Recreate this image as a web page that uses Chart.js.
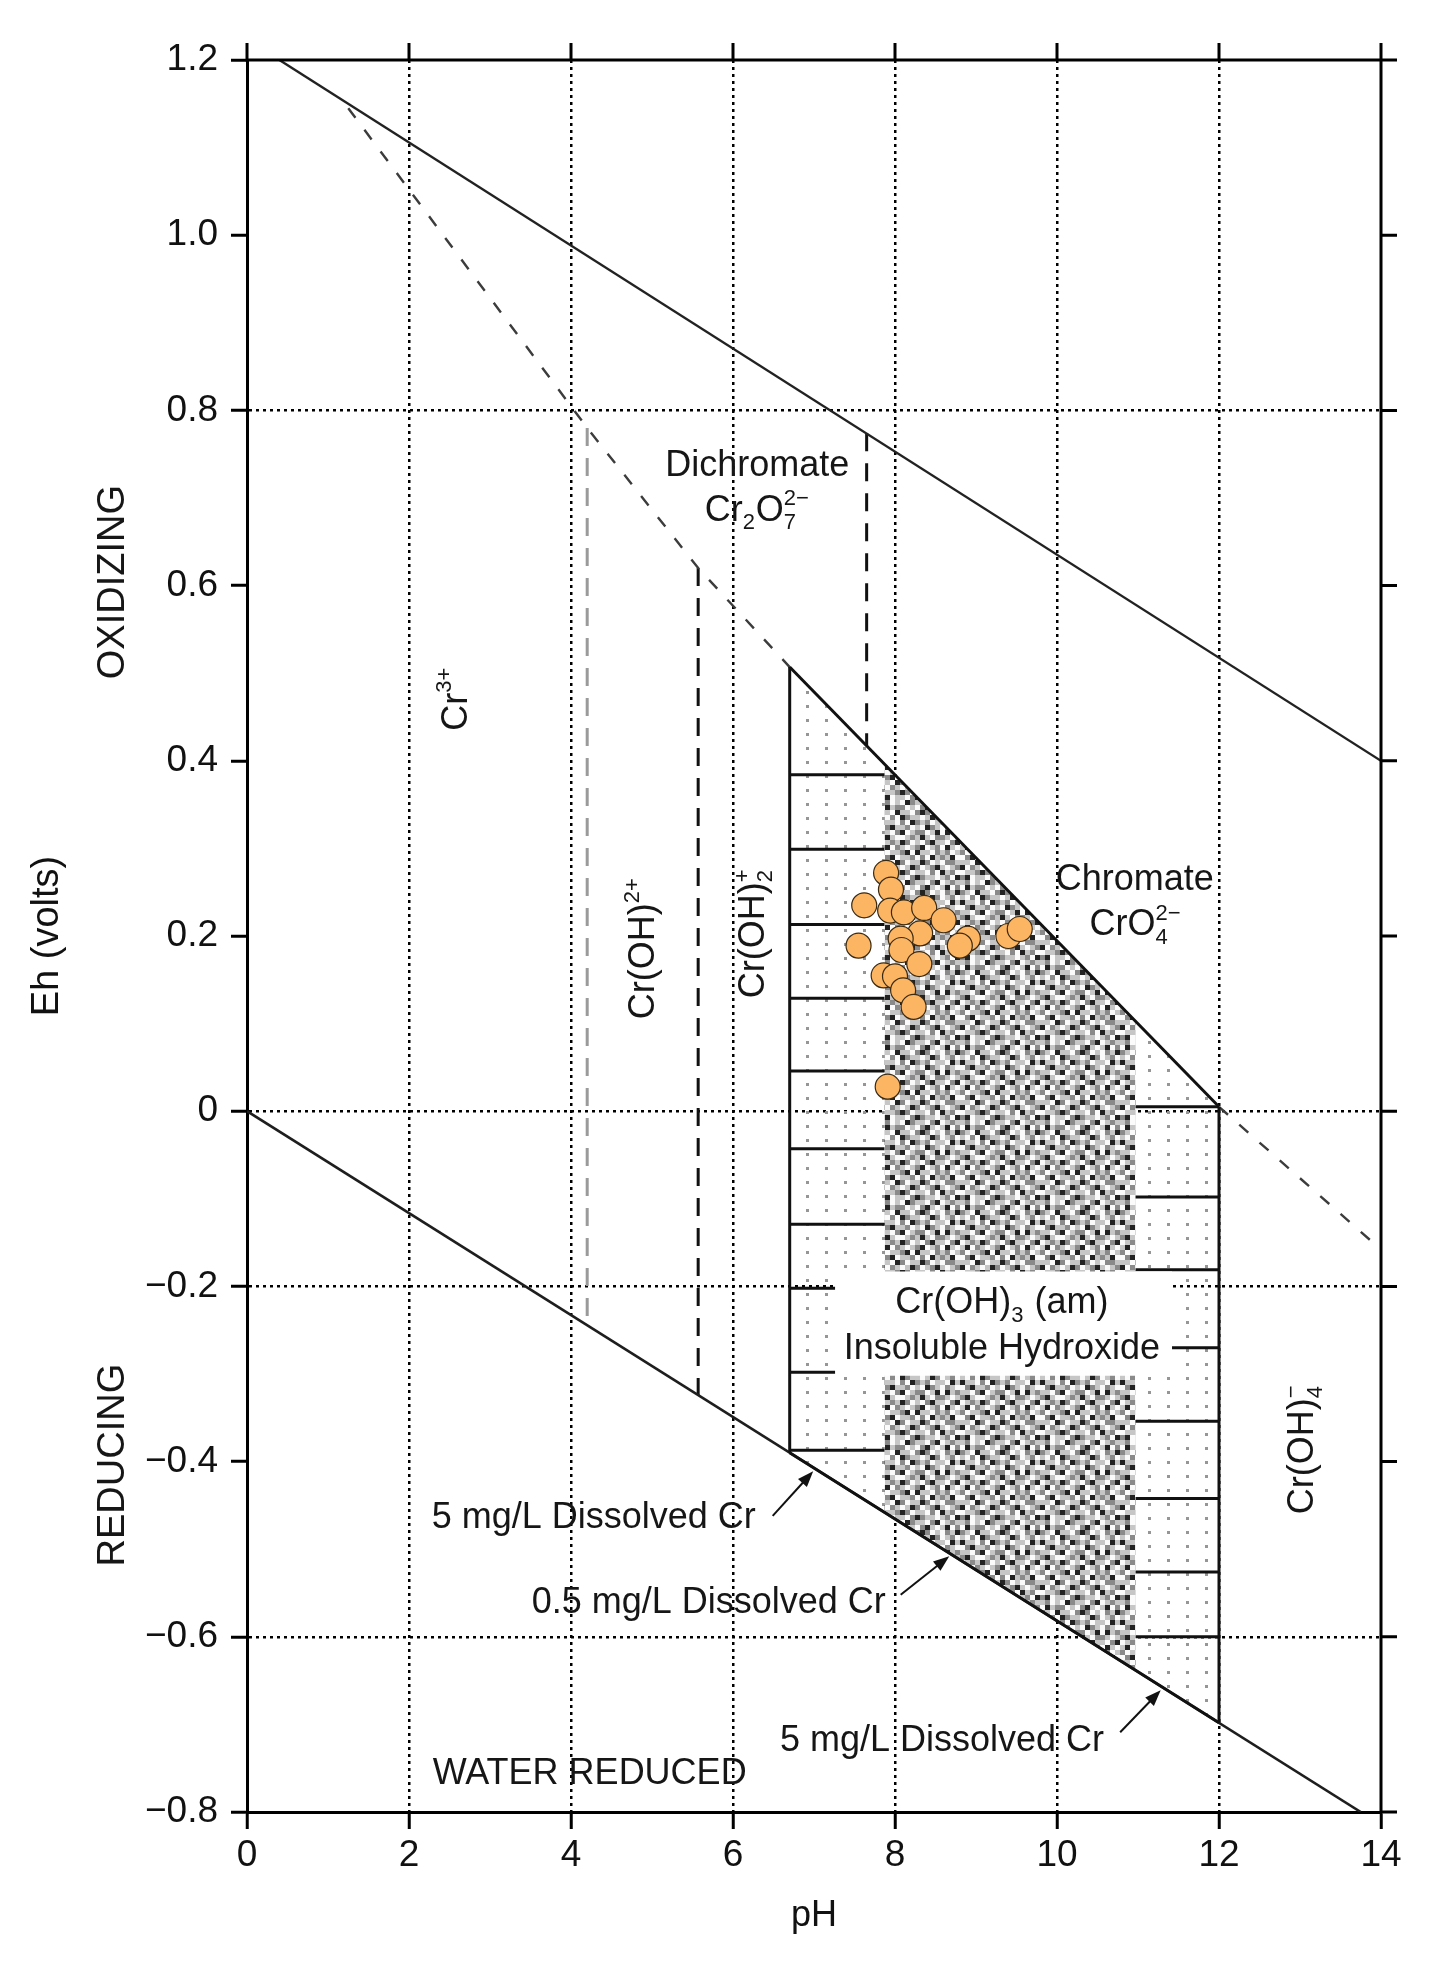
<!DOCTYPE html>
<html>
<head>
<meta charset="utf-8">
<title>Eh-pH diagram, chromium</title>
<script src="https://cdn.jsdelivr.net/npm/chart.js@4.4.1/dist/chart.umd.min.js"></script>
<style>
    html, body { margin: 0; padding: 0; background: #fff; }
    #wrap { width: 1430px; height: 1964px; }
</style>
</head>
<body>
<div id="wrap"><canvas id="ehphChart" width="1430" height="1964"></canvas></div>
<script>
// ===== Axis ticks =====
const xTickValues = [0, 2, 4, 6, 8, 10, 12, 14];
const xTickLabels = ['0', '2', '4', '6', '8', '10', '12', '14'];
const yTickValues = [-0.8, -0.6, -0.4, -0.2, 0, 0.2, 0.4, 0.6, 0.8, 1.0, 1.2];
const yTickLabels = ['−0.8', '−0.6', '−0.4', '−0.2', '0', '0.2', '0.4', '0.6', '0.8', '1.0', '1.2'];
const xDottedGrid = [2, 4, 6, 8, 10, 12];
const yDottedGrid = [-0.6, -0.2, 0, 0.8];

// ===== Boundaries, [pH, Eh] =====
const waterOxidized = [[0.4, 1.2], [14, 0.4]];
const waterReduced = [[0, 0], [13.75, -0.8]];
const crBoundaryUpper = [[1.25, 1.145], [4.2, 0.78], [5.57, 0.62], [6.7, 0.507]];
const crBoundaryLower = [[12, 0.005], [14, -0.158]];
const cr3Boundary = [[4.2, 0.78], [4.2, -0.244]];
const crOH2Boundary = [[5.57, 0.62], [5.57, -0.324]];
const dichromateBoundary = [[7.65, 0.774], [7.65, 0.417]];

// Cr(OH)3 field at 5 mg/L and 0.5 mg/L dissolved Cr
const field5Top = [[6.7, 0.507], [12, 0.005]];
const field5Bottom = [[6.7, -0.390], [12, -0.698]];
const field5Left = [[6.7, 0.507], [6.7, -0.390]];
const field5Right = [[12, 0.005], [12, -0.698]];
const field05Top = [[7.87, 0.396], [10.97, 0.103]];
const field05Bottom = [[7.87, -0.458], [10.97, -0.638]];

// horizontal rules in the 5 mg/L bands
const leftBandPH = [6.7, 7.87];
const leftBandEh = [0.384, 0.299, 0.213, 0.129, 0.046, -0.043, -0.129, -0.202, -0.298, -0.387];
const rightBandPH = [10.97, 12];
const rightBandEh = [0.005, -0.098, -0.181, -0.270, -0.354, -0.442, -0.526, -0.600];

// ===== Samples =====
const samplePH = [7.89, 7.95, 7.62, 7.94, 8.11, 8.36, 8.60, 8.31, 8.07, 7.55, 8.90, 8.80, 8.08, 8.30, 7.86, 8.00, 8.10, 8.23, 9.40, 9.54, 7.91];
const sampleEh = [0.272, 0.253, 0.235, 0.229, 0.227, 0.232, 0.218, 0.203, 0.197, 0.189, 0.197, 0.189, 0.184, 0.168, 0.155, 0.154, 0.138, 0.119, 0.200, 0.208, 0.028];

// ===== Labels =====
const FONT = '"Liberation Sans", Arial, Helvetica, sans-serif';
const TEXT = '#161616';

const fieldLabels = [
    { parts: [{ t: 'Cr' }, { sup: '3+' }], x: 2.55, y: 0.471, rot: -90 },
    { parts: [{ t: 'Cr(OH)' }, { sup: '2+' }], x: 4.87, y: 0.186, rot: -90 },
    { parts: [{ t: 'Cr(OH)' }, { sub: '2', sup: '+' }], x: 6.22, y: 0.203, rot: -90 },
    { parts: [{ t: 'Dichromate' }], x: 6.30, y: 0.740 },
    { parts: [{ t: 'Cr' }, { sub: '2' }, { t: 'O' }, { sub: '7', sup: '2−' }], x: 6.30, y: 0.689 },
    { parts: [{ t: 'Chromate' }], x: 10.96, y: 0.267 },
    { parts: [{ t: 'CrO' }, { sub: '4', sup: '2−' }], x: 10.97, y: 0.216 },
    { parts: [{ t: 'Cr(OH)' }, { sub: '3' }, { t: ' (am)' }], x: 9.32, y: -0.216 },
    { parts: [{ t: 'Insoluble Hydroxide' }], x: 9.32, y: -0.268 },
    { parts: [{ t: 'Cr(OH)' }, { sub: '4', sup: '−' }], x: 13.0, y: -0.386, rot: -90 },
    { parts: [{ t: '5 mg/L Dissolved Cr' }], x: 4.28, y: -0.461 },
    { parts: [{ t: '0.5 mg/L Dissolved Cr' }], x: 5.70, y: -0.558 },
    { parts: [{ t: '5 mg/L Dissolved Cr' }], x: 8.58, y: -0.715 },
    { parts: [{ t: 'WATER REDUCED' }], x: 4.23, y: -0.753 }
];

const arrows = [
    { from: [6.49, -0.462], to: [6.99, -0.411] },
    { from: [8.07, -0.552], to: [8.67, -0.508] },
    { from: [10.78, -0.709], to: [11.28, -0.661] }
];

// white background behind the Cr(OH)3 label
const labelBox = { x0: 7.26, x1: 11.42, y0: -0.183, y1: -0.302 };

// ===== Fill patterns =====
function makeDotPattern() {
    const c = document.createElement('canvas');
    c.width = 19;
    c.height = 14;
    const g = c.getContext('2d');
    g.fillStyle = '#969696';
    g.fillRect(8, 5, 3, 3);
    return g.createPattern(c, 'repeat');
}

function makeDensePattern() {
    // fixed halftone tile (0 = white ... 3 = black)
    const rows = [
        '1201032110230121',
        '0312201023101302',
        '2103110232010213',
        '1020321101320120',
        '3110203212011031',
        '0231120103210210',
        '1102301220130312',
        '2310012131022101',
        '0121320102311023',
        '1302101230120310',
        '2011230311021201',
        '0230112020312130',
        '1103201132010221',
        '3021013201231012',
        '0112320110203120',
        '2301102321101203'
    ];
    const shades = ['#fbfbfb', '#c6c6c6', '#8a8a8a', '#222222'];
    const cell = 5;
    const c = document.createElement('canvas');
    c.width = rows[0].length * cell;
    c.height = rows.length * cell;
    const g = c.getContext('2d');
    rows.forEach((r, j) => {
        for (let i = 0; i < r.length; i++) {
            g.fillStyle = shades[+r[i]];
            g.fillRect(i * cell, j * cell, cell, cell);
        }
    });
    return g.createPattern(c, 'repeat');
}

// ===== Helpers =====
const pts = arr => arr.map(p => ({ x: p[0], y: p[1] }));

function lineSet(points, color, width, dash, order) {
    return {
        data: pts(points),
        borderColor: color,
        borderWidth: width,
        borderDash: dash || [],
        pointRadius: 0,
        fill: false,
        order: order
    };
}

function bandRules(range, levels) {
    const out = [];
    levels.forEach(e => {
        out.push({ x: range[0], y: e }, { x: range[1], y: e }, { x: range[1], y: null });
    });
    return out;
}

function drawRich(ctx, parts, x, y, size, rot) {
    const small = Math.round(size * 0.62);
    const mainFont = size + 'px ' + FONT;
    const smallFont = small + 'px ' + FONT;
    const widths = parts.map(p => {
        if (p.t !== undefined) {
            ctx.font = mainFont;
            return ctx.measureText(p.t).width;
        }
        ctx.font = smallFont;
        const a = p.sub ? ctx.measureText(p.sub).width : 0;
        const b = p.sup ? ctx.measureText(p.sup).width : 0;
        return Math.max(a, b) + 1;
    });
    const total = widths.reduce((a, b) => a + b, 0);
    ctx.save();
    ctx.translate(x, y);
    if (rot) ctx.rotate(rot * Math.PI / 180);
    ctx.textAlign = 'left';
    ctx.textBaseline = 'alphabetic';
    ctx.fillStyle = TEXT;
    const base = size * 0.36;
    let cx = -total / 2;
    parts.forEach((p, i) => {
        if (p.t !== undefined) {
            ctx.font = mainFont;
            ctx.fillText(p.t, cx, base);
        } else {
            ctx.font = smallFont;
            if (p.sub) ctx.fillText(p.sub, cx, base + size * 0.24);
            if (p.sup) ctx.fillText(p.sup, cx, base - size * 0.42);
        }
        cx += widths[i];
    });
    ctx.restore();
}

function drawArrow(ctx, x1, y1, x2, y2) {
    const ang = Math.atan2(y2 - y1, x2 - x1);
    const len = 16, half = 6;
    ctx.save();
    ctx.strokeStyle = '#111';
    ctx.fillStyle = '#111';
    ctx.lineWidth = 2;
    ctx.beginPath();
    ctx.moveTo(x1, y1);
    ctx.lineTo(x2 - Math.cos(ang) * len * 0.8, y2 - Math.sin(ang) * len * 0.8);
    ctx.stroke();
    ctx.translate(x2, y2);
    ctx.rotate(ang);
    ctx.beginPath();
    ctx.moveTo(0, 0);
    ctx.lineTo(-len, -half);
    ctx.lineTo(-len, half);
    ctx.closePath();
    ctx.fill();
    ctx.restore();
}

// ===== Plugins =====
const annotations = {
    id: 'annotations',
    afterDatasetsDraw(chart) {
        const { ctx, scales: { x, y } } = chart;
        // label background
        ctx.save();
        ctx.fillStyle = '#fff';
        const bx = x.getPixelForValue(labelBox.x0);
        const by = y.getPixelForValue(labelBox.y0);
        ctx.fillRect(bx, by, x.getPixelForValue(labelBox.x1) - bx, y.getPixelForValue(labelBox.y1) - by);
        ctx.restore();

        fieldLabels.forEach(l => {
            drawRich(ctx, l.parts, x.getPixelForValue(l.x), y.getPixelForValue(l.y), 36, l.rot);
        });
        arrows.forEach(a => {
            drawArrow(ctx, x.getPixelForValue(a.from[0]), y.getPixelForValue(a.from[1]),
                x.getPixelForValue(a.to[0]), y.getPixelForValue(a.to[1]));
        });
    },
    afterDraw(chart) {
        const { ctx, chartArea: area, scales: { x, y } } = chart;
        ctx.save();
        ctx.strokeStyle = '#000';
        ctx.lineWidth = 3;
        ctx.beginPath();
        ctx.moveTo(area.left - 1.5, area.top);
        ctx.lineTo(area.right + 1.5, area.top);
        ctx.moveTo(area.right, area.top);
        ctx.lineTo(area.right, area.bottom + 1.5);
        xTickValues.forEach(v => {
            const px = x.getPixelForValue(v);
            ctx.moveTo(px, area.top);
            ctx.lineTo(px, area.top - 17);
        });
        yTickValues.forEach(v => {
            const py = y.getPixelForValue(v);
            ctx.moveTo(area.right, py);
            ctx.lineTo(area.right + 16, py);
        });
        ctx.stroke();
        ctx.restore();

        // side captions
        drawRich(ctx, [{ t: 'OXIDIZING' }], area.left - 137, y.getPixelForValue(0.604), 38, -90);
        drawRich(ctx, [{ t: 'REDUCING' }], area.left - 137, y.getPixelForValue(-0.404), 38, -90);
    }
};

// ===== Build chart =====
const dotPattern = makeDotPattern();
const densePattern = makeDensePattern();

const datasets = [
    {
        label: 'Samples',
        data: samplePH.map((v, i) => ({ x: v, y: sampleEh[i] })),
        showLine: false,
        pointRadius: 12.5,
        pointHoverRadius: 12.5,
        pointBackgroundColor: '#fbb563',
        pointBorderColor: '#3b2a12',
        pointBorderWidth: 1.2,
        order: 0
    },
    lineSet(waterOxidized, '#222', 2.4, null, 2),
    lineSet(waterReduced, '#1e1e1e', 2.6, null, 2),
    lineSet(crBoundaryUpper, '#3c3c3c', 2.4, [12, 15], 2),
    lineSet(crBoundaryLower, '#3c3c3c', 2.4, [12, 15], 2),
    lineSet(cr3Boundary, '#9a9a9a', 3, [18, 12], 2),
    lineSet(crOH2Boundary, '#111', 3, [18, 12], 2),
    lineSet(dichromateBoundary, '#111', 3, [18, 12], 2),
    lineSet(field5Top, '#111', 3, null, 1),
    lineSet(field5Bottom, '#111', 3, null, 1),
    lineSet(field5Left, '#111', 3, null, 1),
    lineSet(field5Right, '#111', 3, null, 1),
    {
        data: bandRules(leftBandPH, leftBandEh).concat(bandRules(rightBandPH, rightBandEh)),
        borderColor: '#111',
        borderWidth: 3,
        pointRadius: 0,
        spanGaps: false,
        fill: false,
        order: 3
    },
    // 0.5 mg/L field (dense texture)
    { data: pts(field05Top), borderColor: 'rgba(0,0,0,0)', pointRadius: 0, backgroundColor: densePattern, fill: '+1', order: 8 },
    { data: pts(field05Bottom), borderColor: 'rgba(0,0,0,0)', pointRadius: 0, fill: false, order: 8 },
    // 5 mg/L field (dotted)
    { data: pts(field5Top), borderColor: 'rgba(0,0,0,0)', pointRadius: 0, backgroundColor: dotPattern, fill: '+1', order: 9 },
    { data: pts(field5Bottom), borderColor: 'rgba(0,0,0,0)', pointRadius: 0, fill: false, order: 9 }
];

const isIn = (list, v) => list.some(g => Math.abs(g - v) < 1e-9);

new Chart(document.getElementById('ehphChart'), {
    type: 'line',
    data: { datasets: datasets },
    options: {
        responsive: false,
        animation: false,
        devicePixelRatio: 1,
        layout: { padding: { top: 60, right: 49, left: 0, bottom: 0 } },
        plugins: {
            legend: { display: false },
            tooltip: { enabled: false }
        },
        scales: {
            x: {
                type: 'linear',
                min: 0,
                max: 14,
                afterBuildTicks: s => { s.ticks = xTickValues.map(v => ({ value: v })); },
                afterFit: s => { s.height = 152; },
                ticks: {
                    callback: (v, i) => xTickLabels[i],
                    autoSkip: false,
                    maxRotation: 0,
                    padding: 5,
                    color: '#111',
                    font: { family: FONT, size: 37 }
                },
                grid: {
                    color: c => (c.tick && isIn(xDottedGrid, c.tick.value)) ? '#000' : 'rgba(0,0,0,0)',
                    lineWidth: 2.5,
                    tickColor: '#000',
                    tickWidth: 3,
                    tickLength: 17
                },
                border: { display: true, color: '#000', width: 3, dash: [3, 4] },
                title: {
                    display: true,
                    text: 'pH',
                    color: '#111',
                    font: { family: FONT, size: 36 },
                    padding: { top: 0, bottom: 26 }
                }
            },
            y: {
                type: 'linear',
                min: -0.8,
                max: 1.2,
                afterBuildTicks: s => { s.ticks = yTickValues.map(v => ({ value: v })); },
                afterFit: s => { s.width = 247; },
                ticks: {
                    callback: (v, i) => yTickLabels[i],
                    autoSkip: false,
                    padding: 13,
                    color: '#111',
                    font: { family: FONT, size: 37 }
                },
                grid: {
                    color: c => (c.tick && isIn(yDottedGrid, c.tick.value)) ? '#000' : 'rgba(0,0,0,0)',
                    lineWidth: 2.5,
                    tickColor: '#000',
                    tickWidth: 3,
                    tickLength: 16
                },
                border: { display: true, color: '#000', width: 3, dash: [3, 4] },
                title: {
                    display: true,
                    text: 'Eh (volts)',
                    color: '#111',
                    font: { family: FONT, size: 38 },
                    padding: { top: 25, bottom: 0 }
                }
            }
        }
    },
    plugins: [annotations]
});
</script>
</body>
</html>
